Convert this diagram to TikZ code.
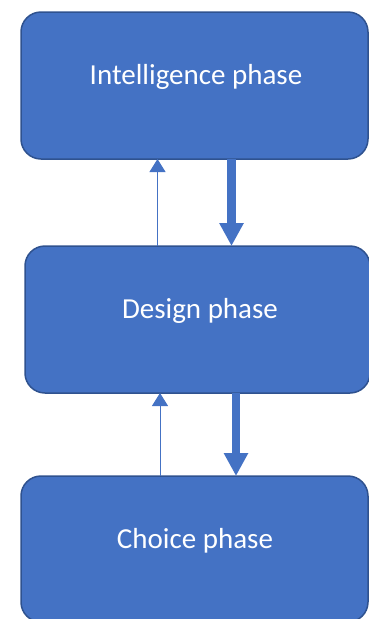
\documentclass[tikz,border=0pt]{standalone}
\usepackage{fontspec}
\setmainfont{Carlito}
\usetikzlibrary{arrows.meta}

\definecolor{phasefill}{HTML}{4472C4}
\definecolor{phaseline}{HTML}{2F528F}

\tikzset{
  phasebox/.style={draw=phaseline, fill=phasefill, line width=1.5pt,
    rounded corners=20pt, inner sep=0pt, outer sep=0pt},
  phaselabel/.style={text=white, inner sep=0pt,
    font=\fontsize{29}{34}\selectfont},
  backarrow/.style={draw=phasefill, line width=1pt,
    -{Triangle[width=16pt,length=13pt]}},
  forwardarrow/.style={draw=phasefill, line width=8.5pt,
    -{Triangle[width=23pt,length=23pt]}},
}

\begin{document}
\begin{tikzpicture}[x=1pt,y=-1pt]
  \useasboundingbox (0,0) rectangle (369,619);
  \clip (0,0) rectangle (369,619);

  % the three phases
  \node[phasebox, minimum width=347pt, minimum height=147pt] (intel) at (194.5,85.5) {};
  \node[phasebox, minimum width=345pt, minimum height=147pt] (design) at (197.5,319.5) {};
  \node[phasebox, minimum width=347pt, minimum height=146pt] (choice) at (194.5,549) {};

  \node[phaselabel, anchor=base] (intelText) at (196,84) {Intelligence phase};
  \node[phaselabel, anchor=base] (designText) at (200,318.3) {Design phase};
  \node[phaselabel, anchor=base] (choiceText) at (195,548.3) {Choice phase};

  % forward flow (thick) and feedback (thin)
  \draw[forwardarrow] ([xshift=37pt]intel.south) -- ([xshift=34pt]design.north);
  \draw[backarrow] ([xshift=-40pt]design.north) -- ([xshift=-37pt]intel.south);

  \draw[forwardarrow] ([xshift=38.5pt]design.south) -- ([xshift=41.5pt]choice.north);
  \draw[backarrow] ([xshift=-34.5pt]choice.north) -- ([xshift=-37.5pt]design.south);
\end{tikzpicture}
\end{document}
